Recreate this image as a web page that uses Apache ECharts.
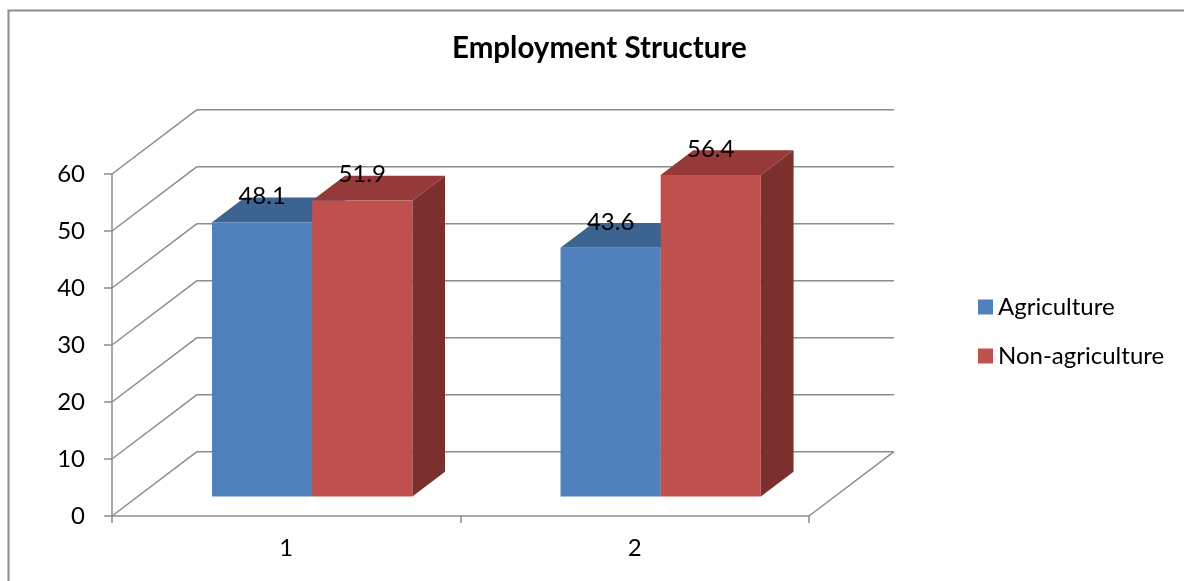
<!DOCTYPE html>
<html>
<head>
<meta charset="utf-8">
<script src="https://cdn.jsdelivr.net/npm/echarts@6/dist/echarts.min.js"></script>
<style>
  html, body { margin: 0; padding: 0; background: #fff; }
  #chart { width: 1184px; height: 581px; }
</style>
</head>
<body>
<div id="chart"></div>
<script>
// ---- data ----
const categories = ['1', '2'];
const seriesNames = ['Agriculture', 'Non-agriculture'];
const agriculture = [48.1, 43.6];
const nonAgriculture = [51.9, 56.4];
const yTicks = [0, 10, 20, 30, 40, 50, 60];

// ---- 3D look: oblique depth of the plot box (px) and where bars sit in it ----
const DEPTH_X = 85, DEPTH_Y = -64.3;
const BAR_FRONT = 0.305, BAR_BACK = 0.69;
const BAR_WIDTH_RATIO = 100 / 348;   // each bar's share of a category band
const FONT = 'Lato';
const GRID_COLOR = '#8c8c8c';

const faces = [
  { front: '#4F81BD', top: '#3D6391', side: '#345480' },
  { front: '#C0504D', top: '#953A38', side: '#7B302E' }
];

// back wall gridlines, left-wall diagonals and the floor's right edge
function renderWalls(params, api) {
  const v = api.value(1);
  const cs = params.coordSys;
  const y = api.coord([0, v])[1];
  const x0 = cs.x, x1 = cs.x + cs.width;
  const style = { stroke: GRID_COLOR, lineWidth: 1.5, fill: null };
  const children = [
    { type: 'line', shape: { x1: x0, y1: y, x2: x0 + DEPTH_X, y2: y + DEPTH_Y }, style },
    { type: 'line', shape: { x1: x0 + DEPTH_X, y1: y + DEPTH_Y, x2: x1 + DEPTH_X, y2: y + DEPTH_Y }, style }
  ];
  if (v === 0) {
    children.push({ type: 'line', shape: { x1: x1, y1: y, x2: x1 + DEPTH_X, y2: y + DEPTH_Y }, style });
  }
  return { type: 'group', children };
}

// one prism per value: side, top and front faces plus its value label
function makeBarRenderer(s) {
  return function (params, api) {
    const i = api.value(0), v = api.value(1);
    const band = api.size([1, 0])[0];
    const w = band * BAR_WIDTH_RATIO;
    const base = api.coord([i, 0]);
    const yTop = api.coord([i, v])[1];
    const fx = DEPTH_X * BAR_FRONT, fy = DEPTH_Y * BAR_FRONT;
    const dX = DEPTH_X * (BAR_BACK - BAR_FRONT), dY = DEPTH_Y * (BAR_BACK - BAR_FRONT);
    const left = base[0] - w + s * w + fx;
    const right = left + w;
    const top = yTop + fy, bottom = base[1] + fy;
    const c = faces[s];
    return {
      type: 'group',
      children: [
        { type: 'polygon', shape: { points: [[right, bottom], [right + dX, bottom + dY], [right + dX, top + dY], [right, top]] }, style: { fill: c.side } },
        { type: 'polygon', shape: { points: [[left, top], [right, top], [right + dX, top + dY], [left + dX, top + dY]] }, style: { fill: c.top } },
        { type: 'rect', shape: { x: left, y: top, width: w, height: bottom - top }, style: { fill: c.front } },
        { type: 'text', x: left + w / 2, y: top - 26,
          style: { text: v.toFixed(1), fill: '#000', fontSize: 24, fontFamily: FONT, align: 'center', verticalAlign: 'middle' } }
      ]
    };
  };
}

const chart = echarts.init(document.getElementById('chart'), null, { renderer: 'canvas' });

chart.setOption({
  backgroundColor: '#fff',
  animation: false,
  title: {
    text: 'Employment Structure',
    left: 452, top: 33,
    padding: 0,
    textStyle: { fontFamily: FONT, fontSize: 29.5, fontWeight: 'bold', color: '#000' }
  },
  graphic: [{
    type: 'rect', silent: true, z: -10,
    shape: { x: 8.5, y: 10.5, width: 1300, height: 700 },
    style: { fill: null, stroke: GRID_COLOR, lineWidth: 2 }
  }],
  legend: {
    orient: 'vertical',
    left: 973, top: 290,
    itemWidth: 15, itemHeight: 15, itemGap: 25,
    icon: 'rect',
    textStyle: { fontFamily: FONT, fontSize: 24, color: '#000' },
    data: [
      { name: seriesNames[0], itemStyle: { color: faces[0].front } },
      { name: seriesNames[1], itemStyle: { color: faces[1].front } }
    ]
  },
  grid: { left: 112, right: 375, top: 174, bottom: 65 },
  xAxis: {
    type: 'category',
    data: categories,
    axisLine: { lineStyle: { color: GRID_COLOR, width: 1.5 } },
    axisTick: { show: true, length: 7, lineStyle: { color: GRID_COLOR, width: 1.5 } },
    axisLabel: { fontFamily: FONT, fontSize: 24, color: '#000', margin: 20 },
    splitLine: { show: false }
  },
  yAxis: {
    type: 'value',
    min: 0, max: 60, interval: 10,
    axisLine: { show: true, lineStyle: { color: GRID_COLOR, width: 1.5 } },
    axisTick: { show: true, length: 8, lineStyle: { color: GRID_COLOR, width: 1.5 } },
    axisLabel: { fontFamily: FONT, fontSize: 24, color: '#000', margin: 27 },
    splitLine: { show: false }
  },
  series: [
    {
      type: 'custom', name: 'walls', silent: true,
      renderItem: renderWalls,
      encode: { x: 0, y: 1 },
      data: yTicks.map(v => [0, v])
    },
    {
      type: 'custom', name: seriesNames[0],
      renderItem: makeBarRenderer(0),
      encode: { x: 0, y: 1 },
      data: agriculture.map((v, i) => [i, v])
    },
    {
      type: 'custom', name: seriesNames[1],
      renderItem: makeBarRenderer(1),
      encode: { x: 0, y: 1 },
      data: nonAgriculture.map((v, i) => [i, v])
    }
  ]
});
</script>
</body>
</html>
